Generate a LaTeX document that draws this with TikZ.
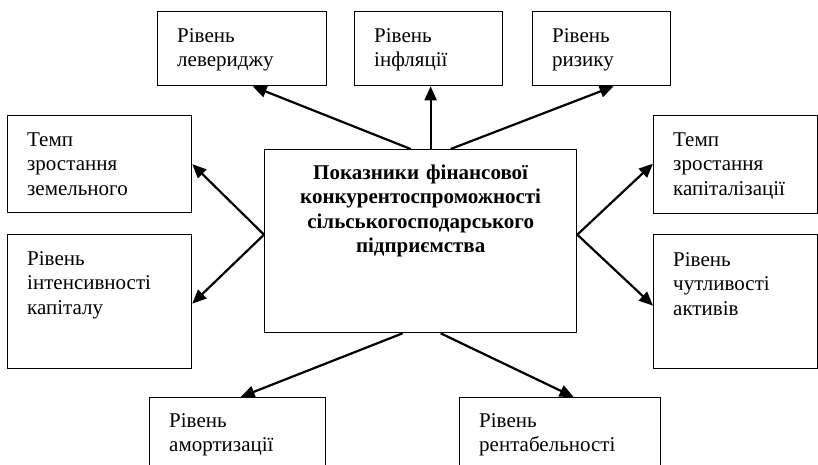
\documentclass[tikz,border=0pt]{standalone}
\usepackage{fontspec}
\setmainfont{Liberation Serif}
\usetikzlibrary{arrows.meta}
\begin{document}
\begin{tikzpicture}[x=1pt,y=-1pt,
  box/.style={draw,line width=1.3pt,rectangle,inner sep=0pt,anchor=north west},
  lbl/.style={inner sep=0pt,anchor=base west,align=left,text width=160pt,
    font=\fontsize{21pt}{24.5pt}\selectfont},
  ttl/.style={inner sep=0pt,anchor=base,align=center,text width=300pt,
    font=\fontsize{21pt}{24.5pt}\selectfont\bfseries},
  arr/.style={line width=2.2pt,-{Triangle[length=14pt,width=12pt]}}]
\useasboundingbox (0,0) rectangle (818,464);
\clip (0,0) rectangle (818,464);
% boxes
\node[box,minimum width=169pt,minimum height=74pt] (lev) at (157,11) {};
\node[box,minimum width=148pt,minimum height=74pt] (inf) at (354,11) {};
\node[box,minimum width=138pt,minimum height=74pt] (riz) at (532,11) {};
\node[box,minimum width=184pt,minimum height=97pt] (zem) at (7,115) {};
\node[box,minimum width=184pt,minimum height=134pt] (int) at (7,234) {};
\node[box,minimum width=312pt,minimum height=183pt] (c) at (264,149) {};
\node[box,minimum width=164pt,minimum height=98pt] (kap) at (653,115) {};
\node[box,minimum width=164pt,minimum height=134pt] (cht) at (653,234) {};
\node[box,minimum width=176pt,minimum height=90pt] (amo) at (149,397) {};
\node[box,minimum width=201pt,minimum height=90pt] (ren) at (459,397) {};
% texts
\node[lbl] (tlev) at ([xshift=20pt,yshift=-31pt]lev.north west) {Рівень\\левериджу};
\node[lbl] (tinf) at ([xshift=20pt,yshift=-31pt]inf.north west) {Рівень\\інфляції};
\node[lbl] (triz) at ([xshift=20pt,yshift=-31pt]riz.north west) {Рівень\\ризику};
\node[lbl] (tzem) at ([xshift=20pt,yshift=-31pt]zem.north west) {Темп\\зростання\\земельного};
\node[lbl] (tint) at ([xshift=20pt,yshift=-31pt]int.north west) {Рівень\\інтенсивності\\капіталу};
\node[lbl] (tkap) at ([xshift=20pt,yshift=-31pt]kap.north west) {Темп\\зростання\\капіталізації};
\node[lbl] (tcht) at ([xshift=20pt,yshift=-32pt]cht.north west) {Рівень\\чутливості\\активів};
\node[lbl] (tamo) at ([xshift=20pt,yshift=-30pt]amo.north west) {Рівень\\амортизації};
\node[lbl] (tren) at ([xshift=20pt,yshift=-30pt]ren.north west) {Рівень\\рентабельності};
\node[ttl] (tc) at ([yshift=-30pt]c.north) {Показники фінансової\\конкурентоспроможності\\сільськогосподарського\\підприємства};
% arrows
\draw[arr] ([xshift=-10pt]c.north) -- ([xshift=10.5pt]lev.south);
\draw[arr] ([xshift=10pt]c.north) -- ([xshift=2pt]inf.south);
\draw[arr] ([xshift=30pt]c.north) -- ([xshift=12pt]riz.south);
\draw[arr] ([yshift=6.5pt]c.west) -- (zem.east);
\draw[arr] ([yshift=6.5pt]c.west) -- ([yshift=-2pt]int.east);
\draw[arr] ([yshift=6.5pt]c.east) -- ([yshift=1pt]kap.west);
\draw[arr] ([yshift=6.5pt]c.east) -- ([yshift=-4pt]cht.west);
\draw[arr] ([xshift=-18pt]c.south) -- ([xshift=3pt]amo.north);
\draw[arr] ([xshift=20pt]c.south) -- ([xshift=13.5pt]ren.north);
\end{tikzpicture}
\end{document}
